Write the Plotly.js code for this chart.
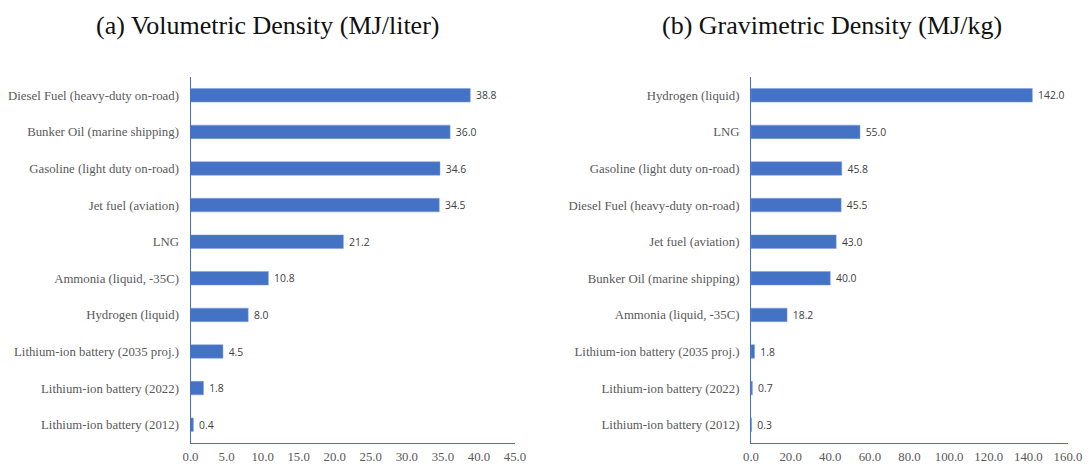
<!DOCTYPE html>
<html><head><meta charset="utf-8">
<script src="https://cdn.plot.ly/plotly-3.0.1.min.js"></script>
<style>body{margin:0;background:#fff}#c{width:1088px;height:464px}</style>
</head><body><div id="c"></div>
<script>
const volCategories = ["Diesel Fuel (heavy-duty on-road)","Bunker Oil (marine shipping)","Gasoline (light duty on-road)","Jet fuel (aviation)","LNG","Ammonia (liquid, -35C)","Hydrogen (liquid)","Lithium-ion battery (2035 proj.)","Lithium-ion battery (2022)","Lithium-ion battery (2012)"];
const volValues = [38.8,36.0,34.6,34.5,21.2,10.8,8.0,4.5,1.8,0.4];
const gravCategories = ["Hydrogen (liquid)","LNG","Gasoline (light duty on-road)","Diesel Fuel (heavy-duty on-road)","Jet fuel (aviation)","Bunker Oil (marine shipping)","Ammonia (liquid, -35C)","Lithium-ion battery (2035 proj.)","Lithium-ion battery (2022)","Lithium-ion battery (2012)"];
const gravValues = [142.0,55.0,45.8,45.5,43.0,40.0,18.2,1.8,0.7,0.3];
const volTicks = [0,5,10,15,20,25,30,35,40,45];
const gravTicks = [0,20,40,60,80,100,120,140,160];
const titles = ["(a) Volumetric Density (MJ/liter)","(b) Gravimetric Density (MJ/kg)"];

const blue = "#4472C4";
function bar(x, y, xa, ya){
  return {type:"bar", orientation:"h", x:x, y:y, xaxis:xa, yaxis:ya,
    marker:{color:blue, line:{color:"#7f9fd8", width:0.5}}, width:0.37,
    texttemplate:" %{x:.1f}", textposition:"outside", cliponaxis:false,
    textfont:{family:"Open Sans, Liberation Sans, sans-serif", size:11.5, color:"#404040"},
    hoverinfo:"none"};
}
const W=1088, H=464;
const catFont = {family:"Liberation Serif, Times New Roman, serif", size:12.8, color:"#595959"};
function xax(dom, ticks, max){
  return {domain:dom, range:[0,max], tickvals:ticks, ticktext:ticks.map(v=>v.toFixed(1)),
    showgrid:false, zeroline:false, showline:true, linecolor:blue, linewidth:1,
    ticks:"outside", ticklen:2, tickcolor:"rgba(0,0,0,0)", tickfont:catFont, fixedrange:true, automargin:false};
}
function yax(dom){
  return {domain:dom, range:[9.5,-0.5], type:"category", showgrid:false, zeroline:false,
    showline:true, linecolor:blue, linewidth:1, ticks:"", ticklabelstandoff:8, tickfont:catFont, automargin:false};
}
const yd=[1-443/H, 1-77/H];
const layout = {
  width:W, height:H, margin:{l:0,r:0,t:0,b:0}, showlegend:false,
  paper_bgcolor:"#fff", plot_bgcolor:"#fff",
  xaxis: Object.assign(xax([190.5/W, 515/W], volTicks, 45), {anchor:"y"}),
  yaxis: Object.assign(yax(yd), {anchor:"x"}),
  xaxis2: Object.assign(xax([751/W, 1068/W], gravTicks, 160), {anchor:"y2"}),
  yaxis2: Object.assign(yax(yd), {anchor:"x2"}),
  annotations:[
    {text:titles[0], x:267/W, y:1-26/H, xref:"paper", yref:"paper", showarrow:false, xanchor:"center", yanchor:"middle",
     font:{family:"Liberation Serif, serif", size:26, color:"#111"}},
    {text:titles[1], x:832/W, y:1-26/H, xref:"paper", yref:"paper", showarrow:false, xanchor:"center", yanchor:"middle",
     font:{family:"Liberation Serif, serif", size:26, color:"#111"}}
  ]
};
Plotly.newPlot("c", [bar(volValues, volCategories, "x", "y"), bar(gravValues, gravCategories, "x2", "y2")], layout, {staticPlot:true});
</script></body></html>
